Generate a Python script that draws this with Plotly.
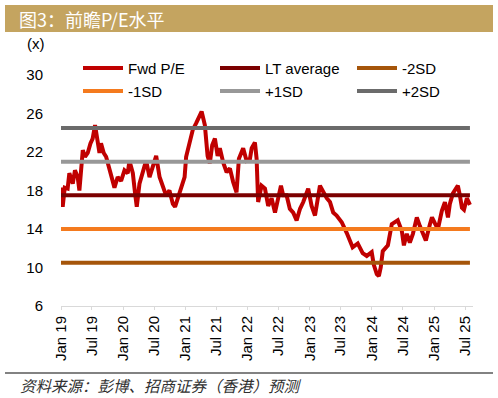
import plotly.graph_objects as go

dates = [
    "2019-01-01", "2019-01-11", "2019-01-23", "2019-02-09", "2019-02-19", "2019-03-11",
    "2019-03-24", "2019-04-09", "2019-04-19", "2019-05-09", "2019-05-22", "2019-06-07",
    "2019-06-23", "2019-07-06", "2019-07-20", "2019-08-01", "2019-08-15", "2019-08-24",
    "2019-09-09", "2019-09-23", "2019-10-03", "2019-10-22", "2019-11-11", "2019-11-30",
    "2019-12-20", "2020-01-09", "2020-01-28", "2020-02-07", "2020-02-27", "2020-03-11",
    "2020-03-21", "2020-04-06", "2020-04-25", "2020-05-15", "2020-06-04", "2020-06-23",
    "2020-07-13", "2020-08-02", "2020-08-21", "2020-09-09", "2020-09-29", "2020-10-19",
    "2020-11-01", "2020-11-17", "2020-12-07", "2020-12-27", "2021-01-05", "2021-01-25",
    "2021-02-13", "2021-03-05", "2021-03-17", "2021-04-06", "2021-04-25", "2021-05-11",
    "2021-05-24", "2021-06-07", "2021-06-23", "2021-07-09", "2021-07-22", "2021-08-11",
    "2021-08-31", "2021-09-19", "2021-10-08", "2021-10-28", "2021-11-11", "2021-12-06",
    "2021-12-26", "2022-01-15", "2022-01-25", "2022-02-13", "2022-02-23", "2022-03-04",
    "2022-03-24", "2022-04-13", "2022-05-02", "2022-05-22", "2022-06-11", "2022-06-30",
    "2022-07-16", "2022-07-29", "2022-08-18", "2022-09-06", "2022-09-26", "2022-10-16",
    "2022-11-05", "2022-11-24", "2022-12-23", "2023-01-12", "2023-02-01", "2023-03-02",
    "2023-03-22", "2023-04-11", "2023-04-30", "2023-05-19", "2023-06-08", "2023-07-08",
    "2023-08-06", "2023-08-24", "2023-09-10", "2023-10-10", "2023-10-22",
    "2023-11-08", "2023-12-02", "2023-12-31", "2024-01-12", "2024-01-30", "2024-02-11",
    "2024-02-22", "2024-03-05", "2024-04-04", "2024-04-27", "2024-05-15", "2024-06-01",
    "2024-06-25", "2024-07-07", "2024-07-24", "2024-08-11", "2024-08-29", "2024-09-21",
    "2024-10-09", "2024-10-27", "2024-11-13", "2024-12-07", "2024-12-19", "2025-01-05",
    "2025-01-23", "2025-02-15", "2025-03-05", "2025-03-23", "2025-04-03", "2025-04-21",
    "2025-05-09", "2025-05-20", "2025-06-01", "2025-06-13", "2025-06-25", "2025-07-12",
    "2025-07-30",
]
fwd_pe = [
    18.3, 16.3, 18.3, 18.2, 19.8, 18.7,
    20.1, 19.4, 18.0, 22.2, 21.5, 21.9,
    22.9, 23.4, 24.8, 23.2, 21.9, 22.9,
    21.9, 21.5, 20.8, 19.8, 18.3, 19.4,
    19.0, 20.1, 19.8, 21.1, 19.8, 17.7,
    16.3, 18.7, 19.8, 21.1, 19.4, 20.4,
    21.6, 19.4, 18.3, 17.5, 18.0, 16.6,
    16.3, 17.2, 18.0, 19.4, 21.5, 22.9,
    24.3, 25.0, 25.5, 26.2, 24.8, 21.6,
    20.8, 22.7, 23.4, 21.6, 22.4, 20.9,
    19.9, 20.3, 18.9, 17.8, 21.3, 22.4,
    21.1, 21.3, 22.4, 23.0, 21.3, 16.8,
    18.5, 18.2, 16.4, 17.2, 15.7, 17.2,
    18.5, 17.5, 17.5, 16.1, 15.7, 14.9,
    16.1, 16.8, 18.2, 16.4, 15.4, 18.5,
    17.8, 17.2, 16.8, 15.7, 15.4, 14.7,
    13.6, 12.8, 12.1, 12.5, 12.1,
    11.5, 11.2, 11.6, 10.3, 9.3, 9.1,
    10.0, 11.7, 12.3, 14.5, 14.7, 14.9,
    13.8, 12.3, 13.5, 12.6, 13.5, 15.2,
    14.3, 13.5, 12.8, 14.5, 15.2, 14.6,
    14.0, 15.9, 16.8, 15.2, 16.6, 17.7,
    18.2, 18.5, 17.5, 16.2, 16.0, 17.2,
    16.5,
]

band_names = ["LT average", "-2SD", "-1SD", "+1SD", "+2SD"]
band_values = [17.5, 10.5, 14.0, 21.0, 24.5]

y_ticks = [6, 10, 14, 18, 22, 26, 30]

series_names = ["Fwd P/E"] + band_names
colors = {
    "Fwd P/E": "#C00000",
    "LT average": "#7B0000",
    "-2SD": "#A5550A",
    "-1SD": "#F47A1E",
    "+1SD": "#989898",
    "+2SD": "#6B6B6B",
}

FONT = "Liberation Sans, Arial, sans-serif"
CJK = "Noto Sans CJK SC, sans-serif"

# plot area in pixels
W, H = 498, 398
L, R, T, B = 61, 473, 75, 306


def px(xp):
    return (xp - L) / (R - L)


def py(yp):
    return (B - yp) / (B - T)


fig = go.Figure()
fig.add_trace(go.Scatter(x=dates, y=fwd_pe, mode="lines", name="Fwd P/E",
                         line=dict(color=colors["Fwd P/E"], width=4),
                         showlegend=False))
for nm, val in zip(band_names, band_values):
    fig.add_trace(go.Scatter(x=[dates[0], dates[-1]], y=[val, val], mode="lines",
                             name=nm, line=dict(color=colors[nm], width=4),
                             showlegend=False))

shapes = []
annotations = []

# title bar
shapes.append(dict(type="rect", xref="paper", yref="paper",
                   x0=px(5), x1=px(493), y0=py(32), y1=py(5),
                   fillcolor="#C4A460", line=dict(width=0), layer="below"))
annotations.append(dict(xref="paper", yref="paper", x=px(17), y=py(19),
                        xanchor="left", yanchor="middle", showarrow=False,
                        text="图3：前瞻P/E水平",
                        font=dict(family=CJK, size=18, color="white")))

# unit label
annotations.append(dict(xref="paper", yref="paper", x=px(36), y=py(43),
                        xanchor="center", yanchor="middle", showarrow=False,
                        text="(x)", font=dict(family=FONT, size=15, color="#000000")))

# manual legend
legend_pos = [(83, 68), (220, 68), (357, 68), (83, 91), (220, 91), (357, 91)]
for nm, (lx, ly) in zip(series_names, legend_pos):
    shapes.append(dict(type="line", xref="paper", yref="paper",
                       x0=px(lx), x1=px(lx + 40), y0=py(ly), y1=py(ly),
                       line=dict(color=colors[nm], width=4)))
    annotations.append(dict(xref="paper", yref="paper", x=px(lx + 43), y=py(ly),
                            xanchor="left", yanchor="middle", showarrow=False,
                            text=nm, font=dict(family=FONT, size=15, color="#000000")))

# footer rule and source
shapes.append(dict(type="line", xref="paper", yref="paper",
                   x0=px(5), x1=px(493), y0=py(373), y1=py(373),
                   line=dict(color="#595959", width=1.5)))
annotations.append(dict(xref="paper", yref="paper", x=px(18), y=py(385),
                        xanchor="left", yanchor="middle", showarrow=False,
                        text="资料来源：彭博、招商证券（香港）预测",
                        font=dict(family=CJK, size=15.5, color="#303030", style="italic")))

fig.update_layout(
    width=W, height=H,
    margin=dict(l=L, r=W - R, t=T, b=H - B, pad=0),
    paper_bgcolor="white", plot_bgcolor="white",
    shapes=shapes, annotations=annotations,
    showlegend=False,
    font=dict(family=FONT, size=15, color="#000000"),
    xaxis=dict(
        type="date", range=["2019-01-01", "2025-08-17"],
        tick0="2019-01-01", dtick="M6", tickformat="%b %y",
        tickangle=-90, tickfont=dict(family=FONT, size=15, color="#000000"),
        showline=True, linecolor="#D9D9D9", linewidth=1,
        ticks="outside", ticklen=3, tickcolor="#D9D9D9",
        showgrid=False, zeroline=False,
    ),
    yaxis=dict(
        range=[6, 30], tickvals=y_ticks,
        tickfont=dict(family=FONT, size=15, color="#000000"),
        showline=False, showgrid=False, zeroline=False,
        ticks="", ticklabelstandoff=17,
    ),
)

fig.write_html("out.html", config={"displayModeBar": False},
               post_script="document.body.style.margin='0';document.body.style.overflow='hidden';")
